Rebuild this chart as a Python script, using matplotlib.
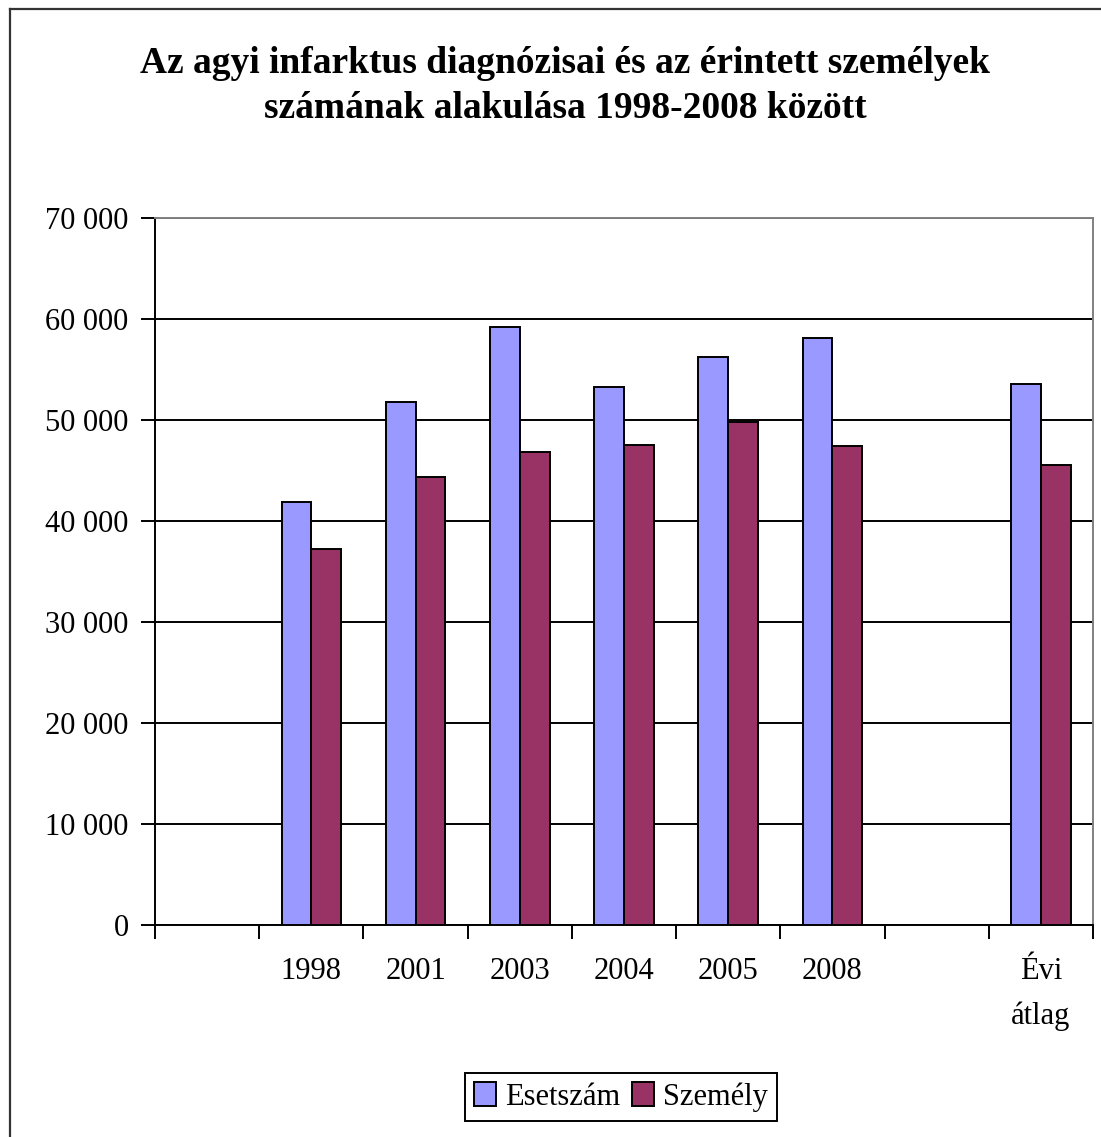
import matplotlib
matplotlib.use("Agg")
import matplotlib.pyplot as plt
import numpy as np
from matplotlib.lines import Line2D
from matplotlib.ticker import FuncFormatter, FixedLocator

categories = ["", "1998", "2001", "2003", "2004", "2005", "2008", "", "Évi\nátlag"]
esetszam = [np.nan, 41900, 51800, 59200, 53300, 56200, 58100, np.nan, 53600]
szemely = [np.nan, 37200, 44400, 46800, 47500, 49800, 47400, np.nan, 45500]
y_ticks = list(range(0, 70001, 10000))
series_names = ["Esetszám", "Személy"]
colors = ["#9999FF", "#993366"]

plt.rcParams["font.family"] = ["Liberation Serif", "DejaVu Serif"]

fig = plt.figure(figsize=(11.01, 11.37), dpi=100)
ax = fig.add_axes([155 / 1101, 1 - 925 / 1137, 938 / 1101, 707 / 1137])

x = np.arange(len(categories))
w = 1 / 3.5
ax.bar(x - w / 2, esetszam, width=w, color=colors[0], edgecolor="black", linewidth=1.4,
       label=series_names[0], zorder=3)
ax.bar(x + w / 2, szemely, width=w, color=colors[1], edgecolor="black", linewidth=1.4,
       label=series_names[1], zorder=3)

ax.set_xlim(-0.5, len(categories) - 0.5)
ax.set_ylim(0, 70000)
ax.set_yticks(y_ticks)
ax.yaxis.set_major_formatter(FuncFormatter(lambda v, p: f"{int(v):,}".replace(",", " ")))
ax.grid(axis="y", color="black", linewidth=1.4, zorder=0)

ax.set_xticks(x)
ax.set_xticklabels(categories, fontsize=22, linespacing=1.7)
ax.xaxis.set_minor_locator(FixedLocator(np.arange(-0.5, len(categories), 1)))
ax.tick_params(axis="x", which="major", length=0, pad=23)
ax.tick_params(axis="x", which="minor", length=10, width=1.4, direction="out", color="black")
ax.tick_params(axis="y", length=10, width=1.4, direction="out", pad=9, labelsize=22)

for s in ["left", "bottom"]:
    ax.spines[s].set_color("black")
    ax.spines[s].set_linewidth(1.4)
for s in ["top", "right"]:
    ax.spines[s].set_color("#808080")
    ax.spines[s].set_linewidth(1.4)

fig.text(0.513, 1 - 86 / 1137,
         "Az agyi infarktus diagnózisai és az érintett személyek\nszámának alakulása 1998-2008 között",
         ha="center", va="center", fontsize=27, fontweight="bold", linespacing=1.4)

leg = ax.legend(loc="center", bbox_to_anchor=(621 / 1101, 1 - 1097 / 1137),
                bbox_transform=fig.transFigure, ncol=2, fontsize=22, fancybox=False,
                edgecolor="black", framealpha=1, handlelength=0.7, handleheight=0.8,
                handletextpad=0.3, columnspacing=0.4, borderpad=0.3)
leg.get_frame().set_linewidth(1.4)

# outer chart frame (only left and top visible)
fig.add_artist(Line2D([9.5 / 1101, 9.5 / 1101], [0, 1 - 9 / 1137], color="#333333", linewidth=1.6,
                      transform=fig.transFigure))
fig.add_artist(Line2D([9.5 / 1101, 1], [1 - 9 / 1137, 1 - 9 / 1137], color="#333333", linewidth=1.6,
                      transform=fig.transFigure))

fig.savefig("out.png", dpi=100)
